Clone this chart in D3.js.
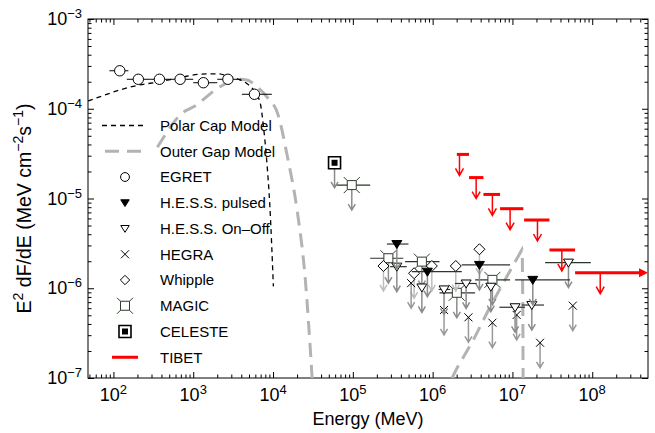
<!DOCTYPE html>
<html>
<head>
<meta charset="utf-8">
<script src="https://cdn.jsdelivr.net/npm/d3@7"></script>
<style>
  body, html {
    margin: 0;
    padding: 0;
    background: #fff;
  }
  svg {
    display: block;
    font-family: "Liberation Sans", Arial, sans-serif;
  }
</style>
</head>
<body>
<svg width="655" height="433"></svg>
<script>

  // ---- data (E in MeV, E^2 dF/dE in MeV cm^-2 s^-1) ----

  var egretE    = [120, 205, 377, 685, 1340, 2720, 5850];
  var egretFlux = [2.65e-4, 2.13e-4, 2.13e-4, 2.13e-4, 1.95e-4, 2.13e-4, 1.45e-4];
  var egretElo  = [89, 147, 290, 500, 1000, 2000, 4070];
  var egretEhi  = [154, 290, 500, 1000, 2000, 4000, 9660];

  var polarCapE    = [48, 71, 120, 200, 380, 708, 1230, 2000, 2630, 3550, 4680, 5890, 6920, 7590, 8320, 9120, 10100];
  var polarCapFlux = [1.22e-4, 1.38e-4, 1.62e-4, 1.82e-4, 2.0e-4, 2.24e-4, 2.43e-4, 2.45e-4, 2.34e-4, 2.16e-4,
                      1.91e-4, 1.55e-4, 1.15e-4, 6.3e-5, 2.7e-5, 8.3e-6, 1.05e-6];

  var outerGapE    = [355, 405, 720, 1010, 2170, 3520, 4700, 6270, 8360, 11600, 15000, 20000, 25200, 30900];
  var outerGapFlux = [3.72e-5, 4.49e-5, 8.89e-5, 1.05e-4, 1.76e-4, 2.13e-4, 2.09e-4, 1.76e-4, 1.36e-4, 8.5e-5,
                      3.05e-5, 7.45e-6, 1.35e-6, 1e-7];
  var outerGapTeVE    = [1.75e6, 2.01e6, 3.24e6, 5.25e6, 8.51e6, 1.31e7, 1.33e7, 1.35e7, 1.36e7];
  var outerGapTeVFlux = [1e-7, 1.28e-7, 2.65e-7, 6.22e-7, 1.35e-6, 2.67e-6, 2.4e-6, 6.3e-7, 1e-7];

  var hessPulsedE    = [3.56e5, 8.6e5, 3.86e6, 1.8e7];
  var hessPulsedFlux = [3.11e-6, 1.53e-6, 1.82e-6, 1.24e-6];
  var hessPulsedElo  = [2.67e5, 5.48e5, 2.32e6, 1.08e7];
  var hessPulsedEhi  = [4.98e5, 2.32e6, 9.35e6, 5.28e7];

  var hessOnOffE    = [3.56e5, 7.33e5, 1.39e6, 2.63e6, 5.36e6, 1.08e7, 1.75e7, 5.04e7];
  var hessOnOffFlux = [1.74e-6, 1.02e-6, 9.7e-7, 1.13e-6, 1.04e-6, 6.14e-7, 6.5e-7, 1.93e-6];
  var hessOnOffElo  = [2.93e5, 7.33e5, 1.19e6, 1.9e6, 5.36e6, 6.87e6, 1.31e7, 2.57e7];
  var hessOnOffEhi  = [4.74e5, 7.33e5, 1.66e6, 3.57e6, 5.36e6, 1.44e7, 2.49e7, 9.6e7];

  var hegraE    = [5.38e5, 1.39e6, 2.81e6, 5.61e6, 1.13e7, 2.22e7, 5.71e7];
  var hegraFlux = [1.14e-6, 5.73e-7, 4.74e-7, 4.13e-7, 5.04e-7, 2.47e-7, 6.4e-7];

  var whippleE    = [2.42e5, 5.86e5, 9.77e5, 1.95e6, 3.86e6];
  var whippleFlux = [1.77e-6, 1.47e-6, 1.77e-6, 1.77e-6, 2.72e-6];

  var magicE    = [9.7e4, 2.79e5, 7.33e5, 2.01e6, 5.61e6];
  var magicFlux = [1.41e-5, 2.16e-6, 1.98e-6, 8.9e-7, 1.24e-6];
  var magicElo  = [6.3e4, 1.65e5, 4.52e5, 1.22e6, 3.41e6];
  var magicEhi  = [1.65e5, 4.3e5, 1.22e6, 3.41e6, 9.35e6];

  var celesteE    = [5.9e4];
  var celesteFlux = [2.5e-5];

  var tibetE    = [2.17e6, 3.51e6, 5.61e6, 9.35e6, 2.06e7, 4.16e7, 1.26e8];
  var tibetFlux = [3.10e-5, 1.71e-5, 1.11e-5, 7.7e-6, 5.76e-6, 2.67e-6, 1.49e-6];
  var tibetElo  = [2.01e6, 2.86e6, 4.33e6, 7.0e6, 1.40e7, 2.91e7, 6.1e7];
  var tibetEhi  = [2.86e6, 4.33e6, 7.0e6, 1.37e7, 2.91e7, 6.1e7, 5e8];
  var tibetOpen = [false, false, false, false, false, false, true];

  var xMajor = [1e2, 1e3, 1e4, 1e5, 1e6, 1e7, 1e8];
  var xMajorLabels = ['2', '3', '4', '5', '6', '7', '8'];
  var yMajor = [1e-7, 1e-6, 1e-5, 1e-4, 1e-3];
  var yMajorLabels = ['\u22127', '\u22126', '\u22125', '\u22124', '\u22123'];

  var legendNames = ['Polar Cap Model', 'Outer Gap Model', 'EGRET', 'H.E.S.S. pulsed', 'H.E.S.S. On\u2013Off',
                     'HEGRA', 'Whipple', 'MAGIC', 'CELESTE', 'TIBET'];
  var legendKinds = ['polar', 'outer', 'circle', 'triFilled', 'triOpen', 'cross', 'diamond', 'magic', 'celeste', 'tibet'];

  // ---- setup ----

  var svg = d3.select('svg');
  var plotL = 88, plotR = 648, plotT = 19, plotB = 378;

  var x = d3.scaleLog().domain([48, 5e8]).range([plotL, plotR]);
  var y = d3.scaleLog().domain([1e-7, 1e-3]).range([plotB, plotT]);

  svg.append('clipPath').attr('id', 'plot-clip')
    .append('rect')
      .attr('x', plotL).attr('y', plotT)
      .attr('width', plotR - plotL).attr('height', plotB - plotT);

  function minors(lo, hi) {
    var out = [];
    for (var d = Math.floor(Math.log10(lo)); d <= Math.ceil(Math.log10(hi)); d++) {
      for (var k = 2; k <= 9; k++) {
        var v = k * Math.pow(10, d);
        if (v > lo * 1.0001 && v < hi * 0.9999) out.push(v);
      }
    }
    return out;
  }

  // ---- axes: ticks on all four sides, pointing in ----

  function ticks(axisFn, scale, vals, size, tx, ty) {
    svg.append('g')
      .attr('transform', 'translate(' + tx + ',' + ty + ')')
      .call(axisFn(scale).tickValues(vals).tickSize(-size).tickSizeOuter(0).tickFormat(''))
      .call(function (g) { g.select('.domain').remove(); });
  }

  var xMinor = minors(48, 5e8);
  var yMinor = minors(1e-7, 1e-3);

  ticks(d3.axisBottom, x, xMajor, 6, 0, plotB);
  ticks(d3.axisBottom, x, xMinor, 3.5, 0, plotB);
  ticks(d3.axisTop, x, xMajor, 6, 0, plotT);
  ticks(d3.axisTop, x, xMinor, 3.5, 0, plotT);
  ticks(d3.axisLeft, y, yMajor, 6, plotL, 0);
  ticks(d3.axisLeft, y, yMinor, 3.5, plotL, 0);
  ticks(d3.axisRight, y, yMajor, 6, plotR, 0);
  ticks(d3.axisRight, y, yMinor, 3.5, plotR, 0);

  svg.append('rect')
    .attr('x', plotL).attr('y', plotT)
    .attr('width', plotR - plotL).attr('height', plotB - plotT)
    .attr('fill', 'none').attr('stroke', '#000').attr('stroke-width', 1);

  // tick labels with superscripts
  var xl = svg.selectAll('.xlab').data(xMajor).enter()
    .append('text')
      .attr('class', 'xlab')
      .attr('x', function (d) { return x(d); })
      .attr('y', 401)
      .attr('text-anchor', 'middle')
      .style('font-size', '18px');
  xl.append('tspan').text('10');
  xl.append('tspan').attr('dy', -7).style('font-size', '13px')
    .text(function (d, i) { return xMajorLabels[i]; });

  var yl = svg.selectAll('.ylab').data(yMajor).enter()
    .append('text')
      .attr('class', 'ylab')
      .attr('x', 82)
      .attr('y', function (d) { return y(d) + 6; })
      .attr('text-anchor', 'end')
      .style('font-size', '18px');
  yl.append('tspan').text('10');
  yl.append('tspan').attr('dy', -7).style('font-size', '13px')
    .text(function (d, i) { return yMajorLabels[i]; });

  svg.append('text')
    .attr('x', (plotL + plotR) / 2)
    .attr('y', 425)
    .attr('text-anchor', 'middle')
    .style('font-size', '18px')
    .text('Energy (MeV)');

  var yt = svg.append('text')
    .attr('transform', 'translate(31,' + ((plotT + plotB) / 2 + 10) + ') rotate(-90)')
    .attr('text-anchor', 'middle')
    .style('font-size', '19.5px');
  yt.append('tspan').text('E');
  yt.append('tspan').attr('dy', -8).style('font-size', '14px').text('2');
  yt.append('tspan').attr('dy', 8).text(' dF/dE (MeV cm');
  yt.append('tspan').attr('dy', -8).style('font-size', '14px').text('\u22122');
  yt.append('tspan').attr('dy', 8).text('s');
  yt.append('tspan').attr('dy', -8).style('font-size', '14px').text('\u22121');
  yt.append('tspan').attr('dy', 8).text(')');

  // ---- model curves ----

  var plot = svg.append('g').attr('clip-path', 'url(#plot-clip)');

  var curve = d3.line()
    .x(function (d) { return x(d[0]); })
    .y(function (d) { return y(d[1]); })
    .curve(d3.curveMonotoneX);

  var straight = d3.line()
    .x(function (d) { return x(d[0]); })
    .y(function (d) { return y(d[1]); });

  plot.append('path')
    .attr('d', curve(d3.zip(outerGapE, outerGapFlux)))
    .attr('fill', 'none').attr('stroke', '#b3b3b3').attr('stroke-width', 3)
    .attr('stroke-dasharray', '14,8');

  plot.append('path')
    .attr('d', straight(d3.zip(outerGapTeVE, outerGapTeVFlux)))
    .attr('fill', 'none').attr('stroke', '#b3b3b3').attr('stroke-width', 3)
    .attr('stroke-dasharray', '14,8');

  plot.append('path')
    .attr('d', curve(d3.zip(polarCapE, polarCapFlux)))
    .attr('fill', 'none').attr('stroke', '#000').attr('stroke-width', 1.3)
    .attr('stroke-dasharray', '5,4');

  // ---- marker shapes ----

  function shape(kind, s) {
    s = s || 1;
    switch (kind) {
      case 'circle':
        var p = d3.path(); p.arc(0, 0, 5.2 * s, 0, 2 * Math.PI); return p.toString();
      case 'triFilled':
      case 'triOpen':
        return 'M' + (-5 * s) + ',' + (-3.5 * s) + 'L' + (5 * s) + ',' + (-3.5 * s) + 'L0,' + (4.5 * s) + 'Z';
      case 'cross':
        return 'M-4,-4L4,4M-4,4L4,-4';
      case 'diamond':
        return 'M0,' + (-5.5 * s) + 'L' + (5.5 * s) + ',0L0,' + (5.5 * s) + 'L' + (-5.5 * s) + ',0Z';
      case 'magic':
        return 'M-4.5,-4.5H4.5V4.5H-4.5Z' +
          'M-4.5,-4.5L-8,-8M4.5,-4.5L8,-8M4.5,4.5L8,8M-4.5,4.5L-8,8';
      case 'celeste':
        return 'M-6,-6H6V6H-6Z';
    }
  }

  function drawMarker(g, kind, s) {
    if (kind === 'celeste') {
      g.append('path').attr('d', shape('celeste', s))
        .attr('fill', '#fff').attr('stroke', '#000').attr('stroke-width', 1.6);
      g.append('rect').attr('x', -3).attr('y', -3).attr('width', 6).attr('height', 6).attr('fill', '#000');
      return;
    }
    var fill = kind === 'triFilled' ? '#000' : (kind === 'cross' ? 'none' : '#fff');
    var stroke = kind === 'magic' ? '#2e3d2e' : '#000';
    g.append('path').attr('d', shape(kind, s))
      .attr('fill', fill).attr('stroke', stroke).attr('stroke-width', 1);
  }

  function arrowPath(cx, cy, len, hw, hh) {
    return 'M' + cx + ',' + cy + 'V' + (cy + len) +
      'M' + (cx - hw) + ',' + (cy + len - hh) + 'L' + cx + ',' + (cy + len) + 'L' + (cx + hw) + ',' + (cy + len - hh);
  }

  // ---- TeV upper limits ----

  var limits = [
    {kind: 'celeste', E: celesteE, F: celesteFlux, arrow: '#8c8c8c'},
    {kind: 'magic', E: magicE, F: magicFlux, lo: magicElo, hi: magicEhi, arrow: '#8c8c8c'},
    {kind: 'diamond', E: whippleE, F: whippleFlux, arrow: '#bdbdbd'},
    {kind: 'cross', E: hegraE, F: hegraFlux, arrow: '#9a9a9a'},
    {kind: 'triOpen', E: hessOnOffE, F: hessOnOffFlux, lo: hessOnOffElo, hi: hessOnOffEhi, arrow: '#8c8c8c'},
    {kind: 'triFilled', E: hessPulsedE, F: hessPulsedFlux, lo: hessPulsedElo, hi: hessPulsedEhi, arrow: '#8c8c8c'}
  ];

  limits.forEach(function (set) {
    var pts = set.E.map(function (e, i) {
      return {E: e, F: set.F[i], lo: set.lo ? set.lo[i] : e, hi: set.hi ? set.hi[i] : e};
    });
    plot.selectAll(null).data(pts).enter()
      .append('line')
        .attr('x1', function (d) { return x(d.lo); })
        .attr('x2', function (d) { return x(d.hi); })
        .attr('y1', function (d) { return y(d.F); })
        .attr('y2', function (d) { return y(d.F); })
        .attr('stroke', '#2b352b').attr('stroke-width', 1.2);
    plot.selectAll(null).data(pts).enter()
      .append('path')
        .attr('d', function (d) { return arrowPath(x(d.E), y(d.F), 25, 3.5, 6); })
        .attr('fill', 'none').attr('stroke', set.arrow).attr('stroke-width', 1.5);
    plot.selectAll(null).data(pts).enter()
      .append('g')
        .attr('transform', function (d) { return 'translate(' + x(d.E) + ',' + y(d.F) + ')'; })
        .each(function () { drawMarker(d3.select(this), set.kind, 1); });
  });

  // ---- TIBET ----

  var tibet = tibetE.map(function (e, i) {
    return {E: e, F: tibetFlux[i], lo: tibetElo[i], hi: tibetEhi[i], open: tibetOpen[i]};
  });

  plot.selectAll('.tibet-bar').data(tibet).enter()
    .append('line')
      .attr('x1', function (d) { return x(d.lo); })
      .attr('x2', function (d) { return d.open ? x(d.hi) - 7 : x(d.hi); })
      .attr('y1', function (d) { return y(d.F); })
      .attr('y2', function (d) { return y(d.F); })
      .attr('stroke', '#ff0000').attr('stroke-width', 3);

  plot.selectAll('.tibet-head').data(tibet.filter(function (d) { return d.open; })).enter()
    .append('path')
      .attr('d', function (d) {
        var ex = x(d.hi), ey = y(d.F);
        return 'M' + ex + ',' + ey + 'L' + (ex - 9) + ',' + (ey - 4.5) + 'L' + (ex - 9) + ',' + (ey + 4.5) + 'Z';
      })
      .attr('fill', '#ff0000');

  plot.selectAll('.tibet-arrow').data(tibet).enter()
    .append('path')
      .attr('d', function (d) { return arrowPath(x(d.E), y(d.F), 21, 4, 7); })
      .attr('fill', 'none').attr('stroke', '#ff0000').attr('stroke-width', 1.5);

  // ---- EGRET ----

  var egret = egretE.map(function (e, i) {
    return {E: e, F: egretFlux[i], lo: egretElo[i], hi: egretEhi[i]};
  });

  plot.selectAll('.egret-bar').data(egret).enter()
    .append('line')
      .attr('x1', function (d) { return x(d.lo); })
      .attr('x2', function (d) { return x(d.hi); })
      .attr('y1', function (d) { return y(d.F); })
      .attr('y2', function (d) { return y(d.F); })
      .attr('stroke', '#000').attr('stroke-width', 1);

  plot.selectAll('.egret').data(egret).enter()
    .append('g')
      .attr('transform', function (d) { return 'translate(' + x(d.E) + ',' + y(d.F) + ')'; })
      .each(function () { drawMarker(d3.select(this), 'circle', 1); });

  // ---- legend ----

  var legend = svg.selectAll('.legend').data(legendNames).enter()
    .append('g')
      .attr('class', 'legend')
      .attr('transform', function (d, i) { return 'translate(125,' + (125.5 + i * 25.75) + ')'; });

  legend.append('text')
    .attr('x', 35)
    .attr('dy', '0.35em')
    .style('font-size', '15px')
    .text(function (d) { return d; });

  legend.each(function (d, i) {
    var g = d3.select(this);
    var kind = legendKinds[i];
    if (kind === 'polar') {
      g.append('line').attr('x1', -23).attr('x2', 22)
        .attr('stroke', '#000').attr('stroke-width', 1.3).attr('stroke-dasharray', '5,4');
    } else if (kind === 'outer') {
      g.append('line').attr('x1', -20).attr('x2', 20)
        .attr('stroke', '#b3b3b3').attr('stroke-width', 3).attr('stroke-dasharray', '14,8');
    } else if (kind === 'tibet') {
      g.append('line').attr('x1', -13).attr('x2', 13)
        .attr('stroke', '#ff0000').attr('stroke-width', 3);
    } else {
      drawMarker(g, kind, 0.85);
    }
  });

</script>
</body>
</html>
